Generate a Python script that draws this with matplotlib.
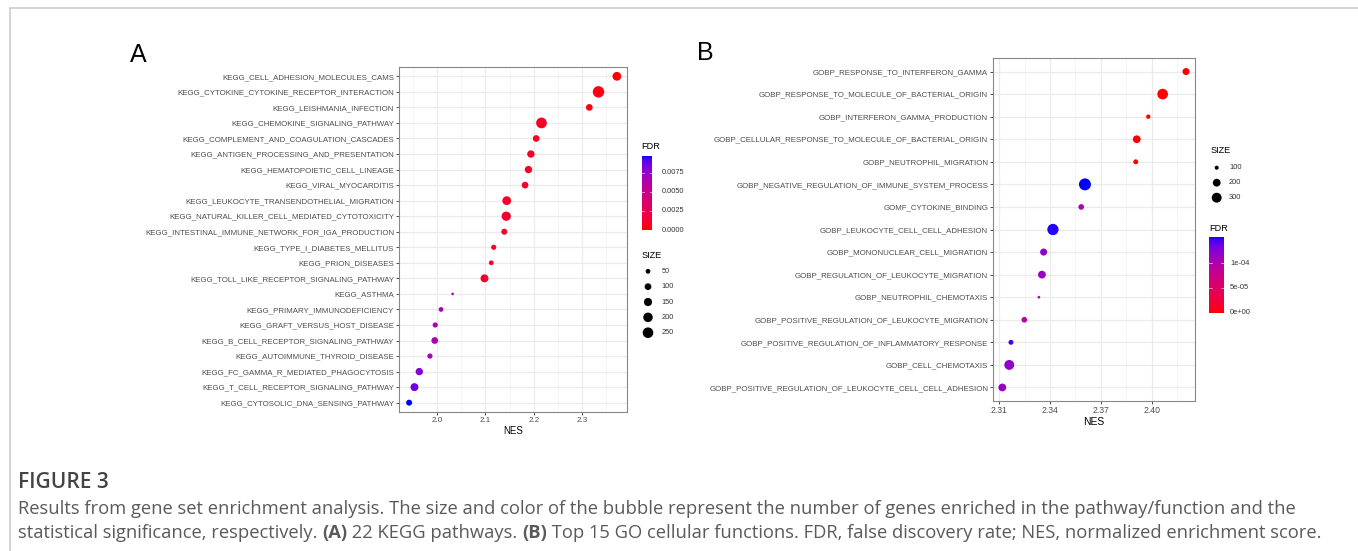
import numpy as np
import matplotlib
matplotlib.use("Agg")
import matplotlib.pyplot as plt
from matplotlib.colors import ListedColormap, Normalize
from matplotlib.lines import Line2D

# ---------------- data ----------------
kegg_terms = [
    "KEGG_CELL_ADHESION_MOLECULES_CAMS",
    "KEGG_CYTOKINE_CYTOKINE_RECEPTOR_INTERACTION",
    "KEGG_LEISHMANIA_INFECTION",
    "KEGG_CHEMOKINE_SIGNALING_PATHWAY",
    "KEGG_COMPLEMENT_AND_COAGULATION_CASCADES",
    "KEGG_ANTIGEN_PROCESSING_AND_PRESENTATION",
    "KEGG_HEMATOPOIETIC_CELL_LINEAGE",
    "KEGG_VIRAL_MYOCARDITIS",
    "KEGG_LEUKOCYTE_TRANSENDOTHELIAL_MIGRATION",
    "KEGG_NATURAL_KILLER_CELL_MEDIATED_CYTOTOXICITY",
    "KEGG_INTESTINAL_IMMUNE_NETWORK_FOR_IGA_PRODUCTION",
    "KEGG_TYPE_I_DIABETES_MELLITUS",
    "KEGG_PRION_DISEASES",
    "KEGG_TOLL_LIKE_RECEPTOR_SIGNALING_PATHWAY",
    "KEGG_ASTHMA",
    "KEGG_PRIMARY_IMMUNODEFICIENCY",
    "KEGG_GRAFT_VERSUS_HOST_DISEASE",
    "KEGG_B_CELL_RECEPTOR_SIGNALING_PATHWAY",
    "KEGG_AUTOIMMUNE_THYROID_DISEASE",
    "KEGG_FC_GAMMA_R_MEDIATED_PHAGOCYTOSIS",
    "KEGG_T_CELL_RECEPTOR_SIGNALING_PATHWAY",
    "KEGG_CYTOSOLIC_DNA_SENSING_PATHWAY",
]
kegg_nes = [2.372, 2.334, 2.315, 2.216, 2.205, 2.194, 2.189, 2.182, 2.144, 2.143, 2.139,
            2.117, 2.112, 2.098, 2.032, 2.008, 1.996, 1.995, 1.985, 1.963, 1.953, 1.942]
kegg_size = [170, 290, 100, 255, 100, 120, 120, 100, 170, 190, 80,
             60, 50, 140, 15, 50, 60, 100, 60, 120, 140, 80]
kegg_fdr = [0.0, 0.0003, 0.0003, 0.0008, 0.0008, 0.0008, 0.0008, 0.0008, 0.0010, 0.0010, 0.0010,
            0.0010, 0.0010, 0.0012, 0.0065, 0.0065, 0.0065, 0.0065, 0.0067, 0.0080, 0.0085, 0.0097]
kegg_xticks = [2.0, 2.1, 2.2, 2.3]
kegg_xticklabels = ["2.0", "2.1", "2.2", "2.3"]
kegg_size_legend = [50, 100, 150, 200, 250]
kegg_fdr_ticks = [0.0, 0.0025, 0.0050, 0.0075]
kegg_fdr_labels = ["0.0000", "0.0025", "0.0050", "0.0075"]

go_terms = [
    "GOBP_RESPONSE_TO_INTERFERON_GAMMA",
    "GOBP_RESPONSE_TO_MOLECULE_OF_BACTERIAL_ORIGIN",
    "GOBP_INTERFERON_GAMMA_PRODUCTION",
    "GOBP_CELLULAR_RESPONSE_TO_MOLECULE_OF_BACTERIAL_ORIGIN",
    "GOBP_NEUTROPHIL_MIGRATION",
    "GOBP_NEGATIVE_REGULATION_OF_IMMUNE_SYSTEM_PROCESS",
    "GOMF_CYTOKINE_BINDING",
    "GOBP_LEUKOCYTE_CELL_CELL_ADHESION",
    "GOBP_MONONUCLEAR_CELL_MIGRATION",
    "GOBP_REGULATION_OF_LEUKOCYTE_MIGRATION",
    "GOBP_NEUTROPHIL_CHEMOTAXIS",
    "GOBP_POSITIVE_REGULATION_OF_LEUKOCYTE_MIGRATION",
    "GOBP_POSITIVE_REGULATION_OF_INFLAMMATORY_RESPONSE",
    "GOBP_CELL_CHEMOTAXIS",
    "GOBP_POSITIVE_REGULATION_OF_LEUKOCYTE_CELL_CELL_ADHESION",
]
go_nes = [2.4203, 2.4065, 2.3980, 2.3912, 2.3906, 2.3606, 2.3584, 2.3417,
          2.3362, 2.3352, 2.3334, 2.3248, 2.3169, 2.3159, 2.3118]
go_size = [172, 343, 104, 200, 115, 433, 131, 383, 172, 200, 89, 131, 115, 300, 200]
go_fdr = [0.0, 0.0, 0.0, 0.0, 0.0, 1.52e-4, 1.0e-4, 1.50e-4,
          1.20e-4, 1.15e-4, 1.0e-4, 0.95e-4, 1.45e-4, 1.20e-4, 1.15e-4]
go_xticks = [2.31, 2.34, 2.37, 2.40]
go_xticklabels = ["2.31", "2.34", "2.37", "2.40"]
go_size_legend = [100, 200, 300]
go_fdr_ticks = [0.0, 5e-5, 1e-4]
go_fdr_labels = ["0e+00", "5e-05", "1e-04"]

# ---------------- setup ----------------
W, H, DPI = 1358, 551, 100
plt.rcParams["font.family"] = ["Liberation Sans", "DejaVu Sans"]
fig = plt.figure(figsize=(W / DPI, H / DPI), dpi=DPI)
fig.patch.set_facecolor("white")


def rect(x0, y0, x1, y1):
    return [x0 / W, 1 - y1 / H, (x1 - x0) / W, (y1 - y0) / H]


# Lab interpolation red -> blue (ggplot gradient)
def _lin(c):
    c = np.asarray(c, float)
    return np.where(c <= 0.04045, c / 12.92, ((c + 0.055) / 1.055) ** 2.4)


def _gam(c):
    c = np.clip(c, 0, 1)
    return np.where(c <= 0.0031308, 12.92 * c, 1.055 * c ** (1 / 2.4) - 0.055)


M = np.array([[0.4124564, 0.3575761, 0.1804375],
              [0.2126729, 0.7151522, 0.0721750],
              [0.0193339, 0.1191920, 0.9503041]])
WP = np.array([0.95047, 1.0, 1.08883])
d6 = 6 / 29


def to_lab(rgb):
    xyz = M @ _lin(rgb) / WP
    f = np.where(xyz > d6 ** 3, np.cbrt(xyz), xyz / (3 * d6 ** 2) + 4 / 29)
    return np.array([116 * f[1] - 16, 500 * (f[0] - f[1]), 200 * (f[1] - f[2])])


def from_lab(lab):
    L, a, b = lab
    fy = (L + 16) / 116
    fx = fy + a / 500
    fz = fy - b / 200
    f = np.array([fx, fy, fz])
    xyz = np.where(f > d6, f ** 3, 3 * d6 ** 2 * (f - 4 / 29)) * WP
    return _gam(np.linalg.solve(M, xyz))


lab_r, lab_b = to_lab([1, 0, 0]), to_lab([0, 0, 1])
cmap = ListedColormap([from_lab(lab_r + (lab_b - lab_r) * t) for t in np.linspace(0, 1, 256)])


def diam(v, vlim, dr):
    t = np.clip((np.asarray(v, float) - vlim[0]) / (vlim[1] - vlim[0]), 0, 1)
    return dr[0] + (dr[1] - dr[0]) * np.sqrt(t)


def area(d):
    return (np.asarray(d) * 72 / DPI) ** 2


GRID = "#EBEBEB"
TXT = "#4D4D4D"


def panel(box, terms, nes, size, fdr, xlim, xticks, xlabels, minor, vmax, vlim, dr,
          fs_y, fs_tick, fs_x):
    ax = fig.add_axes(rect(*box))
    n = len(terms)
    ypos = np.arange(n)[::-1]
    norm = Normalize(0, vmax)
    ax.scatter(nes, ypos, s=area(diam(size, vlim, dr)), c=fdr, cmap=cmap, norm=norm,
               linewidths=0, zorder=3)
    ax.set_ylim(-0.6, n - 1 + 0.6)
    ax.set_xlim(*xlim)
    ax.set_yticks(ypos)
    ax.set_yticklabels(terms, fontsize=fs_y, color=TXT)
    ax.set_xticks(xticks)
    ax.set_xticklabels(xlabels, fontsize=fs_tick, color=TXT)
    ax.set_xticks(minor, minor=True)
    ax.tick_params(axis="x", which="minor", length=0)
    ax.tick_params(which="major", length=2.0, width=0.6, color="#333333", pad=1.5)
    ax.grid(True, which="major", color=GRID, linewidth=0.9, zorder=0)
    ax.grid(True, which="minor", axis="x", color="#F2F2F2", linewidth=0.5, zorder=0)
    ax.set_axisbelow(True)
    for s in ax.spines.values():
        s.set_color("#888888")
        s.set_linewidth(0.8)
    ax.set_xlabel("NES", fontsize=fs_x, color="black", labelpad=1.5)
    return ax


panel((399, 67, 627, 412), kegg_terms, kegg_nes, kegg_size, kegg_fdr, (1.921, 2.393),
      kegg_xticks, kegg_xticklabels, [1.95, 2.05, 2.15, 2.25, 2.35], 0.0097,
      (0, 320), (0, 12), 5.65, 5.8, 7.0)
panel((993, 58, 1195, 401), go_terms, go_nes, go_size, go_fdr, (2.3063, 2.4256),
      go_xticks, go_xticklabels, [2.325, 2.355, 2.385, 2.415], 1.52e-4,
      (88, 433), (2.2, 12), 5.65, 6.2, 7.5)

# ---------------- legends (pixel canvas) ----------------
lax = fig.add_axes([0, 0, 1, 1], zorder=5)
lax.set_xlim(0, W)
lax.set_ylim(H, 0)
lax.axis("off")
lax.patch.set_visible(False)


def colorbar(x0, x1, y0, y1, vmax, ticks, labels, title, ty, lx, fs):
    grad = np.linspace(vmax, 0, 256).reshape(-1, 1)
    lax.imshow(grad, cmap=cmap, norm=Normalize(0, vmax), aspect="auto",
               extent=(x0, x1, y1, y0), origin="upper", interpolation="nearest", zorder=2)
    w = x1 - x0
    for t, lab in zip(ticks, labels):
        yy = y1 - (y1 - y0) * t / vmax
        lax.plot([x0, x0 + w * 0.2], [yy, yy], color="white", lw=0.5, alpha=0.8, zorder=3)
        lax.plot([x1 - w * 0.2, x1], [yy, yy], color="white", lw=0.5, alpha=0.8, zorder=3)
        lax.text(lx, yy, lab, fontsize=fs, va="center", ha="left", color="#333333")
    lax.text(x0, ty, title, fontsize=6.6, va="center", ha="left", color="black")


def sizelegend(x, y0, step, vals, vlim, dr, title, ty, lx, fs):
    ys = y0 + step * np.arange(len(vals))
    lax.scatter([x] * len(vals), ys, s=area(diam(vals, vlim, dr)), c="black", linewidths=0, zorder=3)
    for yy, v in zip(ys, vals):
        lax.text(lx, yy, str(v), fontsize=fs, va="center", ha="left", color="#333333")
    lax.text(x - 6, ty, title, fontsize=6.6, va="center", ha="left", color="black")


colorbar(641.7, 651.7, 156, 230, 0.0097, kegg_fdr_ticks, kegg_fdr_labels, "FDR", 146.7, 661.7, 5.3)
sizelegend(648, 271.3, 15.35, kegg_size_legend, (0, 320), (0, 12), "SIZE", 255, 661.7, 5.3)
sizelegend(1216.7, 167.7, 15.0, go_size_legend, (88, 433), (2.2, 12), "SIZE", 150.7, 1229, 5.4)
colorbar(1209.3, 1224, 237.3, 312.7, 1.52e-4, go_fdr_ticks, go_fdr_labels, "FDR", 228.7, 1230, 5.4)

# panel letters
lax.text(138, 55, "A", fontsize=18, ha="center", va="center", color="black")
lax.text(705, 53, "B", fontsize=18, ha="center", va="center", color="black")

# frame lines
fig.add_artist(Line2D([10 / W, 1], [1 - 8 / H, 1 - 8 / H], color="#CCCCCC", lw=1.2))
fig.add_artist(Line2D([10 / W, 10 / W], [0, 1 - 8 / H], color="#CCCCCC", lw=1.2))

# ---------------- caption ----------------
CAP = ["Open Sans", "DejaVu Sans"]
fig.canvas.draw()
renderer = fig.canvas.get_renderer()


def width_of(txt, fs, wt):
    t = lax.text(0, 0, txt, fontsize=fs, fontweight=wt, family=CAP)
    w = t.get_window_extent(renderer=renderer).width
    t.remove()
    return w


ft_fs = 13.0 * 100 / width_of("FIGURE 3", 13.0, "semibold")
ft_fs = min(ft_fs, 15.0)
lax.text(18, 483, "FIGURE 3", fontsize=ft_fs, fontweight="semibold", family=CAP,
         color="#444444", ha="left", va="center")

line1 = [("Results from gene set enrichment analysis. The size and color of the bubble represent the "
          "number of genes enriched in the pathway/function and the", "normal")]
line2 = [("statistical significance, respectively. ", "normal"), ("(A)", "bold"),
         (" 22 KEGG pathways. ", "normal"), ("(B)", "bold"),
         (" Top 15 GO cellular functions. FDR, false discovery rate; NES, normalized enrichment score.",
          "normal")]

cap_fs = 11.0 * 1277 / width_of(line1[0][0], 11.0, "normal")


def draw_segments(x, y, segs, fs):
    for txt, wt in segs:
        t = lax.text(x, y, txt, fontsize=fs, fontweight=wt, family=CAP, color="#5A5A5A",
                     ha="left", va="center")
        x += t.get_window_extent(renderer=renderer).width
    return x


draw_segments(18, 509, line1, cap_fs)
draw_segments(18, 533, line2, cap_fs)

fig.savefig("out.png", dpi=DPI, facecolor="white")
